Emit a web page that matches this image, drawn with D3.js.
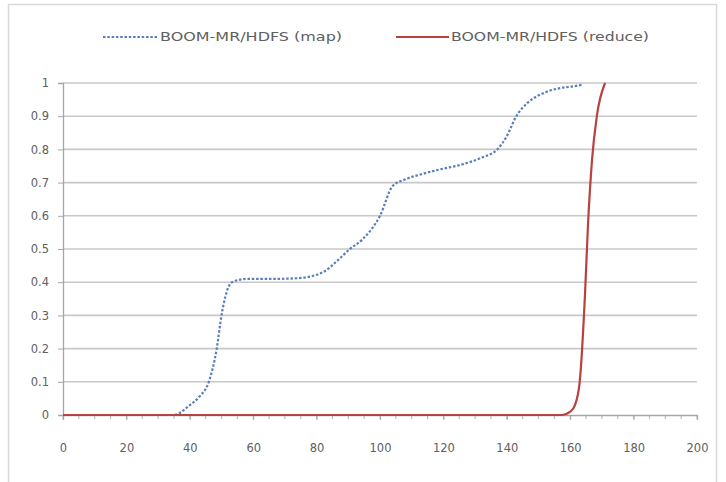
<!DOCTYPE html>
<html>
<head>
<meta charset="utf-8">
<script src="https://cdnjs.cloudflare.com/ajax/libs/d3/7.8.5/d3.min.js"></script>
<style>
  body { margin: 0; background: #fff; }
  svg { display: block; }
  text { font-family: "DejaVu Sans", "Liberation Sans", Arial, sans-serif; font-size: 11.5px; fill: #606060; }
</style>
</head>
<body>
<div class="container"></div>
<script>
// series
var mapX = [0, 35, 40, 43, 46, 48.5, 50, 53.3, 58, 66, 74, 82, 86, 90.5, 94.6, 100, 104, 108, 113, 119, 126, 132, 137, 140, 143, 146.5, 149.5, 153, 157, 161, 164];
var mapY = [0, 0, 0.03, 0.055, 0.1, 0.2, 0.3, 0.4, 0.41, 0.41, 0.412, 0.43, 0.46, 0.5, 0.53, 0.6, 0.69, 0.71, 0.725, 0.74, 0.755, 0.775, 0.8, 0.84, 0.9, 0.94, 0.96, 0.975, 0.985, 0.99, 0.995];

var reduceX = [0, 157.5, 160, 161.5, 163, 164.7, 165.6, 166.9, 168.4, 171];
var reduceY = [0, 0, 0.01, 0.03, 0.1, 0.37, 0.57, 0.77, 0.9, 1];

var xTicks = [0, 20, 40, 60, 80, 100, 120, 140, 160, 180, 200];
var yTicks = [0, 0.1, 0.2, 0.3, 0.4, 0.5, 0.6, 0.7, 0.8, 0.9, 1];
var seriesNames = ["BOOM-MR/HDFS (map)", "BOOM-MR/HDFS (reduce)"];

(function(){
    var W = 726, H = 482;
    var svg = d3.select('.container').append('svg').attr('width', W).attr('height', H);

    // chart area border
    svg.append('rect').attr('x', 8.5).attr('y', 4.5).attr('width', 708).attr('height', 480)
       .attr('fill', 'none').attr('stroke', '#d9d9d9').attr('stroke-width', 1.5);

    var x = d3.scaleLinear().domain([0, 200]).range([63, 697]);
    var y = d3.scaleLinear().domain([0, 1]).range([415, 83]);

    // gridlines
    svg.append('g').selectAll('line')
       .data(yTicks.filter(function(d){ return d > 0; }))
       .enter().append('line')
       .attr('x1', x(0)).attr('x2', x(200))
       .attr('y1', function(d){ return y(d); }).attr('y2', function(d){ return y(d); })
       .attr('stroke', '#c8c8c8').attr('stroke-width', 1.6);

    // y axis
    var yAxis = d3.axisLeft(y).tickValues(yTicks).tickSize(5).tickPadding(9)
       .tickFormat(function(d){ return d === 0 || d === 1 ? d : d3.format('.1f')(d); });
    var gy = svg.append('g').attr('transform', 'translate(' + x(0) + ',0)').call(yAxis);
    gy.select('.domain').attr('stroke', '#a6a6a6').attr('stroke-width', 1.3);
    gy.selectAll('.tick line').attr('stroke', '#a6a6a6');
    gy.selectAll('text').style('font-size', '11.5px').style('fill', '#606060')
       .style('font-family', '"DejaVu Sans", sans-serif');

    // x axis: minor ticks every 5
    var minor = d3.range(0, 201, 5);
    svg.append('g').selectAll('line').data(minor).enter().append('line')
       .attr('x1', function(d){ return x(d); }).attr('x2', function(d){ return x(d); })
       .attr('y1', y(0)).attr('y2', y(0) + 4)
       .attr('stroke', '#b0b0b0');
    var xAxis = d3.axisBottom(x).tickValues(xTicks).tickSize(5).tickPadding(24);
    var gx = svg.append('g').attr('transform', 'translate(0,' + y(0) + ')').call(xAxis);
    gx.select('.domain').attr('stroke', '#a6a6a6').attr('stroke-width', 1.3);
    gx.selectAll('.tick line').attr('stroke', '#a6a6a6');
    gx.selectAll('text').style('font-size', '11.5px').style('fill', '#606060')
       .style('font-family', '"DejaVu Sans", sans-serif');

    var line = d3.line()
       .x(function(d){ return x(d[0]); })
       .y(function(d){ return y(d[1]); })
       .curve(d3.curveMonotoneX);

    var mapPts = mapX.map(function(v, i){ return [v, mapY[i]]; });
    var redPts = reduceX.map(function(v, i){ return [v, reduceY[i]]; });

    svg.append('path').datum(mapPts).attr('d', line)
       .attr('fill', 'none').attr('stroke', '#5b80b8').attr('stroke-width', 2.2)
       .attr('stroke-dasharray', '2.5,1.8');
    svg.append('path').datum(redPts).attr('d', line)
       .attr('fill', 'none').attr('stroke', '#b7423f').attr('stroke-width', 2.2);

    // legend
    var lg = svg.append('g');
    lg.append('line').attr('x1', 103).attr('x2', 157).attr('y1', 37).attr('y2', 37)
       .attr('stroke', '#5b80b8').attr('stroke-width', 2).attr('stroke-dasharray', '2.5,1.8');
    lg.append('text').attr('x', 160).attr('y', 41).attr('textLength', 182)
       .attr('lengthAdjust', 'spacingAndGlyphs').text(seriesNames[0]);
    lg.append('line').attr('x1', 396).attr('x2', 449).attr('y1', 37).attr('y2', 37)
       .attr('stroke', '#b7423f').attr('stroke-width', 2);
    lg.append('text').attr('x', 451).attr('y', 41).attr('textLength', 198)
       .attr('lengthAdjust', 'spacingAndGlyphs').text(seriesNames[1]);
})();
</script>
</body>
</html>
